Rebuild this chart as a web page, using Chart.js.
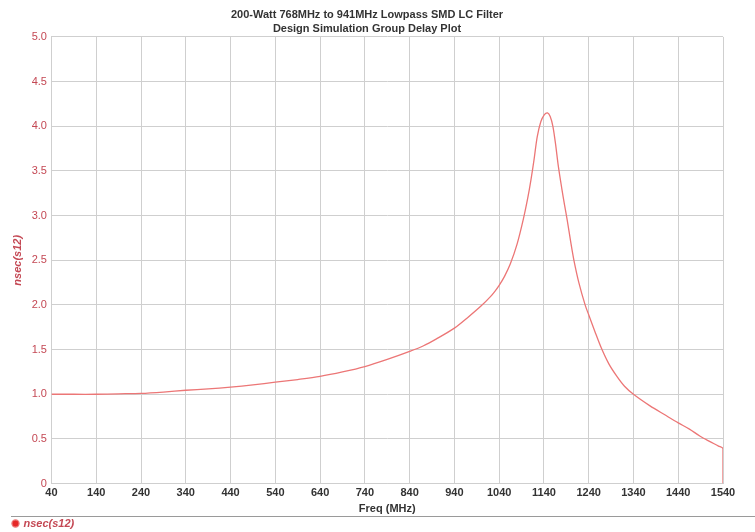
<!DOCTYPE html>
<html>
<head>
<meta charset="utf-8">
<script src="https://cdn.jsdelivr.net/npm/chart.js@4.4.0/dist/chart.umd.min.js"></script>
<style>
  html, body { margin: 0; padding: 0; background: #fff; }
  #wrap { width: 755px; height: 532px; }
</style>
</head>
<body>
<div id="wrap"><canvas id="chart"></canvas></div>
<script>
// group delay
const freqMHz = [40, 90, 140, 190, 240, 290, 340, 390, 440, 490, 540, 590, 640, 690, 740, 790, 840, 870, 900, 940,
  970, 1000, 1020, 1030, 1040, 1052, 1065, 1080, 1094, 1104, 1111, 1118, 1125, 1133, 1141, 1148, 1154, 1160, 1166, 1172,
  1180, 1186, 1192, 1200, 1207, 1218, 1232, 1240, 1254, 1268, 1285, 1303, 1320, 1340, 1377, 1410, 1440, 1465,
  1489, 1511, 1530, 1540, 1540];
const nsecS12 = [1.00, 1.00, 1.00, 1.005, 1.01, 1.025, 1.045, 1.06, 1.08, 1.105, 1.135, 1.165, 1.20, 1.25, 1.31, 1.39, 1.48, 1.54, 1.62, 1.74,
  1.86, 1.99, 2.09, 2.15, 2.22, 2.32, 2.46, 2.68, 2.96, 3.20, 3.40, 3.63, 3.88, 4.05, 4.13, 4.15, 4.11, 4.00, 3.80, 3.56,
  3.30, 3.12, 2.95, 2.70, 2.50, 2.25, 2.00, 1.89, 1.70, 1.52, 1.34, 1.20, 1.09, 1.00, 0.87, 0.77, 0.68, 0.61,
  0.53, 0.47, 0.42, 0.39, 0];
const xTicks = [40, 140, 240, 340, 440, 540, 640, 740, 840, 940, 1040, 1140, 1240, 1340, 1440, 1540];

const RED = 'rgb(196, 72, 84)';
const FONT = '"Liberation Sans", Arial, sans-serif';

const points = freqMHz.map((f, i) => ({ x: f, y: nsecS12[i] }));

// grey rule above the legend
const legendRule = {
  id: 'legendRule',
  afterDraw(chart) {
    const ctx = chart.ctx;
    const y = Math.round(chart.legend.top);
    ctx.save();
    ctx.strokeStyle = '#9a9a9a';
    ctx.lineWidth = 1;
    ctx.beginPath();
    ctx.moveTo(11, y + 0.5);
    ctx.lineTo(755, y + 0.5);
    ctx.stroke();
    ctx.restore();
  }
};

new Chart(document.getElementById('chart'), {
  type: 'scatter',
  data: {
    datasets: [{
      label: 'nsec(s12)',
      data: points,
      showLine: true,
      borderColor: 'rgb(236, 118, 118)',
      backgroundColor: 'rgb(230, 40, 40)',
      borderWidth: 1.3,
      pointRadius: 0,
      tension: 0.3
    }]
  },
  options: {
    responsive: true,
    maintainAspectRatio: false,
    animation: false,
    layout: { padding: { left: 11, right: 32, top: 0, bottom: -7 } },
    plugins: {
      title: {
        display: true,
        text: ['200-Watt 768MHz to 941MHz Lowpass SMD LC Filter', 'Design Simulation Group Delay Plot'],
        color: '#333',
        font: { family: FONT, size: 11, weight: 'bold', lineHeight: 1.36 },
        padding: { top: 7, bottom: 0 }
      },
      legend: {
        position: 'bottom',
        align: 'start',
        labels: {
          usePointStyle: true,
          pointStyle: 'circle',
          boxWidth: 5,
          boxHeight: 5,
          color: RED,
          padding: 2,
          font: { family: FONT, size: 11, style: 'italic', weight: 'bold' }
        }
      },
      tooltip: { enabled: false }
    },
    scales: {
      x: {
        type: 'linear',
        min: 40,
        max: 1540,
        afterBuildTicks: axis => { axis.ticks = xTicks.map(v => ({ value: v })); },
        grid: { color: '#cfcfcf', lineWidth: 1, drawTicks: false },
        border: { color: '#cfcfcf' },
        ticks: {
          color: '#333',
          maxRotation: 0,
          autoSkip: false,
          padding: 3,
          font: { family: FONT, size: 11, weight: 'bold' },
          callback: v => String(v)
        },
        title: {
          display: true,
          text: 'Freq (MHz)',
          color: '#333',
          padding: { top: 0, bottom: 0 },
          font: { family: FONT, size: 11, weight: 'bold' }
        }
      },
      y: {
        min: 0,
        max: 5,
        grid: { color: '#cfcfcf', lineWidth: 1, drawTicks: false },
        border: { color: '#cfcfcf' },
        ticks: {
          stepSize: 0.5,
          color: RED,
          padding: 4.5,
          font: { family: FONT, size: 11 },
          callback: v => v === 0 ? '0' : v.toFixed(1)
        },
        title: {
          display: true,
          text: 'nsec(s12)',
          color: RED,
          padding: { top: 0, bottom: 3 },
          font: { family: FONT, size: 11, style: 'italic', weight: 'bold' }
        }
      }
    }
  },
  plugins: [legendRule]
});
</script>
</body>
</html>
